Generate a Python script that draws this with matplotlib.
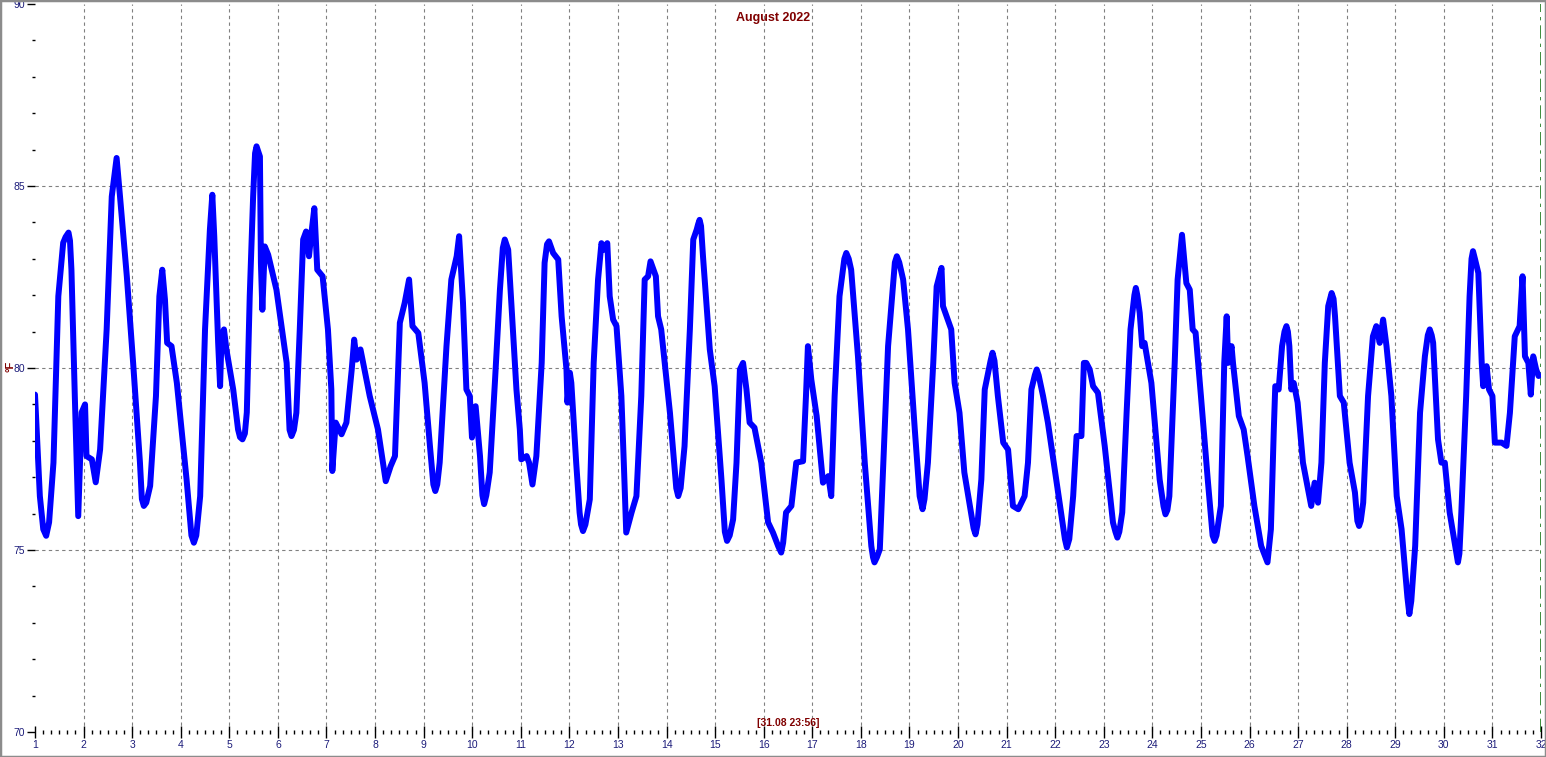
import matplotlib
matplotlib.use("Agg")
import matplotlib.pyplot as plt
from matplotlib.patches import Rectangle
from matplotlib.ticker import MultipleLocator

plt.rcParams['font.family'] = ['Liberation Sans', 'DejaVu Sans']

# time in days of August 2022 (1 = 1 Aug 00:00), temperature in degrees F
# one line per day, day[] and temp[] line up
day = [
    1.00, 1.10, 1.17, 1.23, 1.29, 1.38, 1.48, 1.58, 1.63, 1.69, 1.72, 1.75, 1.82, 1.89, 1.96,
    2.03, 2.06, 2.17, 2.25, 2.34, 2.475, 2.58, 2.68, 2.75, 2.89,
    3.02, 3.16, 3.20, 3.24, 3.29, 3.37, 3.49, 3.56, 3.62, 3.675, 3.72, 3.81, 3.92,
    4.12, 4.22, 4.27, 4.32, 4.40, 4.50, 4.60, 4.65, 4.69, 4.77, 4.81, 4.84, 4.89, 4.94,
    5.08, 5.18, 5.22, 5.27, 5.32, 5.36, 5.42, 5.49, 5.53, 5.56, 5.63, 5.65, 5.68, 5.73, 5.80, 5.97,
    6.18, 6.24, 6.28, 6.33, 6.38, 6.45, 6.52, 6.58, 6.64, 6.69, 6.75, 6.81, 6.92,
    7.03, 7.10, 7.12, 7.19, 7.31, 7.41, 7.52, 7.57, 7.62, 7.70, 7.89,
    8.06, 8.22, 8.32, 8.41, 8.51, 8.61, 8.70, 8.77, 8.89,
    9.02, 9.13, 9.20, 9.24, 9.28, 9.33, 9.47, 9.57, 9.68, 9.73, 9.81, 9.88, 9.95, 9.995,
    10.07, 10.16, 10.21, 10.245, 10.29, 10.36, 10.47, 10.57, 10.63, 10.67, 10.74, 10.83, 10.91, 10.98,
    11.01, 11.12, 11.17, 11.24, 11.32, 11.43, 11.49, 11.54, 11.58, 11.665, 11.77, 11.84, 11.94, 11.96,
    12.01, 12.04, 12.14, 12.21, 12.24, 12.28, 12.33, 12.42, 12.50, 12.59, 12.66, 12.71, 12.78, 12.83, 12.90, 12.97,
    13.07, 13.12, 13.17, 13.28, 13.38, 13.48, 13.55, 13.62, 13.67, 13.78, 13.825, 13.89,
    14.07, 14.20, 14.24, 14.29, 14.37, 14.48, 14.55, 14.62, 14.65, 14.68, 14.71, 14.75, 14.89, 14.99,
    15.13, 15.20, 15.245, 15.30, 15.37, 15.44, 15.51, 15.575, 15.645, 15.71, 15.81, 15.95,
    16.09, 16.19, 16.30, 16.36, 16.40, 16.46, 16.57, 16.67, 16.81, 16.87, 16.91, 16.98,
    17.09, 17.22, 17.33, 17.39, 17.46, 17.56, 17.66, 17.70, 17.75, 17.80, 17.94,
    18.08, 18.215, 18.25, 18.28, 18.33, 18.39, 18.49, 18.56, 18.66, 18.70, 18.74, 18.79, 18.87, 18.97,
    19.11, 19.21, 19.24, 19.27, 19.31, 19.38, 19.49, 19.56, 19.66, 19.69, 19.86, 19.93,
    20.03, 20.13, 20.32, 20.36, 20.40, 20.48, 20.55, 20.67, 20.71, 20.75, 20.82, 20.93,
    21.03, 21.13, 21.24, 21.37, 21.44, 21.51, 21.58, 21.62, 21.66, 21.75, 21.85, 21.99,
    22.20, 22.24, 22.29, 22.37, 22.44, 22.54, 22.59, 22.64, 22.71, 22.78, 22.88,
    23.02, 23.19, 23.24, 23.28, 23.32, 23.38, 23.47, 23.55, 23.63, 23.66, 23.69, 23.74, 23.79, 23.84, 23.98,
    24.15, 24.23, 24.27, 24.31, 24.35, 24.46, 24.52, 24.61, 24.70, 24.77, 24.83, 24.89,
    25.00, 25.14, 25.24, 25.28, 25.32, 25.41, 25.48, 25.53, 25.56, 25.63, 25.66, 25.78, 25.88, 25.96,
    26.10, 26.24, 26.33, 26.37, 26.44, 26.50, 26.53, 26.60, 26.67, 26.72, 26.76, 26.79, 26.82, 26.86, 26.91, 26.99,
    27.10, 27.27, 27.34, 27.41, 27.48, 27.55, 27.62, 27.66, 27.69, 27.73, 27.76, 27.86, 27.94,
    28.06, 28.17, 28.22, 28.255, 28.29, 28.34, 28.44, 28.54, 28.61, 28.68, 28.75, 28.82, 28.92,
    29.03, 29.13, 29.25, 29.29, 29.33, 29.41, 29.51, 29.61, 29.67, 29.71, 29.75, 29.78, 29.88, 29.95,
    30.02, 30.12, 30.26, 30.29, 30.32, 30.36, 30.46, 30.53, 30.57, 30.60, 30.64, 30.71, 30.78, 30.81, 30.88, 30.93,
    31.00, 31.05, 31.19, 31.29, 31.36, 31.46, 31.56, 31.62, 31.67, 31.74, 31.79, 31.84, 31.90, 31.95,
]
temp = [
    79.27, 76.48, 75.57, 75.39, 75.76, 77.40, 81.97, 83.44, 83.6, 83.72, 83.5, 82.70, 79.20, 75.93, 78.78,
    79.00, 77.58, 77.49, 76.86, 77.76, 81.06, 84.71, 85.77, 84.71, 82.52,
    80.14, 77.41, 76.4, 76.21, 76.3, 76.76, 79.23, 81.97, 82.70, 81.88, 80.69, 80.60, 79.59,
    76.94, 75.4, 75.20, 75.4, 76.48, 81.06, 83.80, 84.76, 83.62, 80.69, 79.50, 80.87, 81.06, 80.51,
    79.41, 78.31, 78.1, 78.04, 78.2, 78.78, 81.97, 84.71, 85.9, 86.09, 85.81, 82.89, 81.60, 83.34, 83.11, 82.15,
    80.14, 78.3, 78.13, 78.3, 78.77, 81.06, 83.53, 83.75, 83.07, 83.71, 84.39, 82.70, 82.52,
    81.06, 79.41, 77.17, 78.50, 78.18, 78.50, 79.96, 80.78, 80.23, 80.51, 79.23,
    78.31, 76.89, 77.30, 77.58, 81.24, 81.79, 82.43, 81.15, 80.96,
    79.59, 77.85, 76.8, 76.62, 76.8, 77.40, 80.60, 82.43, 83.07, 83.62, 81.79, 79.41, 79.23, 78.09,
    78.95, 77.58, 76.5, 76.26, 76.5, 77.13, 79.68, 82.15, 83.3, 83.53, 83.25, 81.24, 79.41, 78.31,
    77.49, 77.58, 77.40, 76.80, 77.58, 80.14, 82.89, 83.4, 83.48, 83.16, 82.98, 81.42, 79.96, 79.05,
    79.87, 79.59, 77.40, 76.03, 75.7, 75.52, 75.7, 76.39, 80.14, 82.43, 83.43, 83.25, 83.43, 81.97, 81.33, 81.15,
    79.23, 77.40, 75.48, 76.03, 76.48, 79.23, 82.43, 82.52, 82.93, 82.52, 81.42, 81.06,
    78.77, 76.7, 76.48, 76.7, 77.85, 81.06, 83.53, 83.80, 83.95, 84.07, 83.9, 83.07, 80.51, 79.50,
    76.94, 75.5, 75.25, 75.4, 75.84, 77.40, 79.96, 80.14, 79.41, 78.50, 78.36, 77.40,
    75.76, 75.48, 75.1, 74.93, 75.2, 76.03, 76.21, 77.40, 77.44, 79.23, 80.60, 79.68,
    78.68, 76.85, 77.03, 76.48, 79.23, 81.97, 83.0, 83.16, 83.0, 82.70, 80.32,
    77.40, 75.11, 74.8, 74.66, 74.8, 75.02, 78.31, 80.60, 82.24, 82.9, 83.07, 82.9, 82.43, 81.06,
    78.31, 76.48, 76.3, 76.12, 76.4, 77.40, 80.14, 82.24, 82.75, 81.70, 81.06, 79.59,
    78.77, 77.13, 75.6, 75.43, 75.7, 76.94, 79.41, 80.2, 80.42, 80.2, 79.23, 77.95,
    77.76, 76.21, 76.12, 76.48, 77.40, 79.41, 79.8, 79.96, 79.8, 79.23, 78.50, 77.22,
    75.3, 75.07, 75.3, 76.48, 78.13, 78.13, 80.14, 80.14, 79.96, 79.50, 79.32,
    77.85, 75.75, 75.5, 75.34, 75.5, 76.03, 78.77, 81.06, 82.0, 82.20, 82.0, 81.51, 80.60, 80.69, 79.59,
    76.94, 76.2, 75.98, 76.1, 76.48, 80.14, 82.43, 83.66, 82.33, 82.15, 81.06, 80.97,
    79.23, 76.94, 75.4, 75.25, 75.4, 76.21, 80.14, 81.42, 80.14, 80.60, 80.14, 78.68, 78.31, 77.58,
    76.21, 75.11, 74.8, 74.66, 75.57, 78.31, 79.50, 79.41, 80.60, 81.0, 81.15, 81.0, 80.60, 79.41, 79.59, 79.05,
    77.40, 76.21, 76.85, 76.30, 77.40, 80.14, 81.70, 81.9, 82.06, 81.9, 81.42, 79.23, 79.05,
    77.40, 76.58, 75.8, 75.66, 75.8, 76.30, 79.23, 80.87, 81.15, 80.69, 81.33, 80.60, 79.23,
    76.48, 75.57, 73.7, 73.24, 73.6, 75.11, 78.77, 80.32, 80.9, 81.06, 80.9, 80.69, 78.04, 77.40,
    77.40, 76.03, 74.9, 74.66, 74.9, 76.03, 79.23, 81.97, 83.0, 83.21, 83.0, 82.61, 80.14, 79.50, 80.05, 79.41,
    79.23, 77.95, 77.95, 77.86, 78.77, 80.87, 81.15, 82.52, 80.32, 80.14, 79.27, 80.32, 79.96, 79.78,
]
assert len(day) == len(temp)

x_ticks = list(range(1, 33))
y_ticks = [70, 75, 80, 85, 90]
now_day = 31 + (23 + 56 / 60) / 24   # 31.08 23:56

navy = '#1c1c7a'
dark_red = '#800000'

fig = plt.figure(figsize=(15.46, 7.57), dpi=100)
ax = fig.add_axes([35 / 1546, 25 / 757, 1506 / 1546, 728 / 757])

ax.plot(day, temp, color='#0000ff', lw=4.3, solid_joinstyle='round', solid_capstyle='round', zorder=3)

ax.set_xlim(1, 32)
ax.set_ylim(70, 90)

ax.set_xticks(x_ticks)
ax.set_xticklabels([str(t) for t in x_ticks])
ax.xaxis.set_minor_locator(MultipleLocator(1 / 6))
ax.set_yticks(y_ticks)
ax.set_yticklabels([str(t) for t in y_ticks])
ax.yaxis.set_minor_locator(MultipleLocator(1))

ax.tick_params(axis='x', which='major', direction='inout', length=9, width=1,
               color='black', labelsize=7.5, labelcolor=navy, pad=1)
ax.tick_params(axis='x', which='minor', direction='inout', length=3.5, width=1, color='black')
ax.tick_params(axis='y', which='major', direction='out', length=5.5, width=1,
               color='black', labelsize=7.5, labelcolor=navy, pad=1.5)
ax.tick_params(axis='y', which='minor', direction='out', length=2.5, width=1, color='black')

for s in ax.spines.values():
    s.set_visible(False)

# grid: days vertical, 5 degree steps horizontal
for d in x_ticks[1:-1]:
    ax.axvline(d, color='#808080', lw=0.8, ls=(0, (3, 3)), zorder=1)
for t in y_ticks[1:-1]:
    ax.axhline(t, color='#808080', lw=0.8, ls=(0, (3, 3)), zorder=1)

# current time marker
ax.axvline(now_day, color='#1a7a1a', lw=1.2, ls=(0, (8, 3, 2, 3)), zorder=2)

ax.text(0.5, 0.005, '[31.08 23:56]', transform=ax.transAxes, ha='center', va='bottom',
        fontsize=7.5, fontweight='bold', color=dark_red)

fig.text(10 / 1546, 1 - 366 / 757, '°F', rotation=90, ha='center', va='center',
         color=dark_red, fontsize=8, fontweight='bold')

fig.text(0.5, 1 - 18 / 757, 'August 2022', ha='center', va='center',
         fontsize=9, fontweight='bold', color=dark_red)

fig.patches.append(Rectangle((0, 0), 1, 1, transform=fig.transFigure, fill=False,
                             edgecolor='#8c8c8c', lw=2.5))

fig.savefig('out.png', dpi=100)
